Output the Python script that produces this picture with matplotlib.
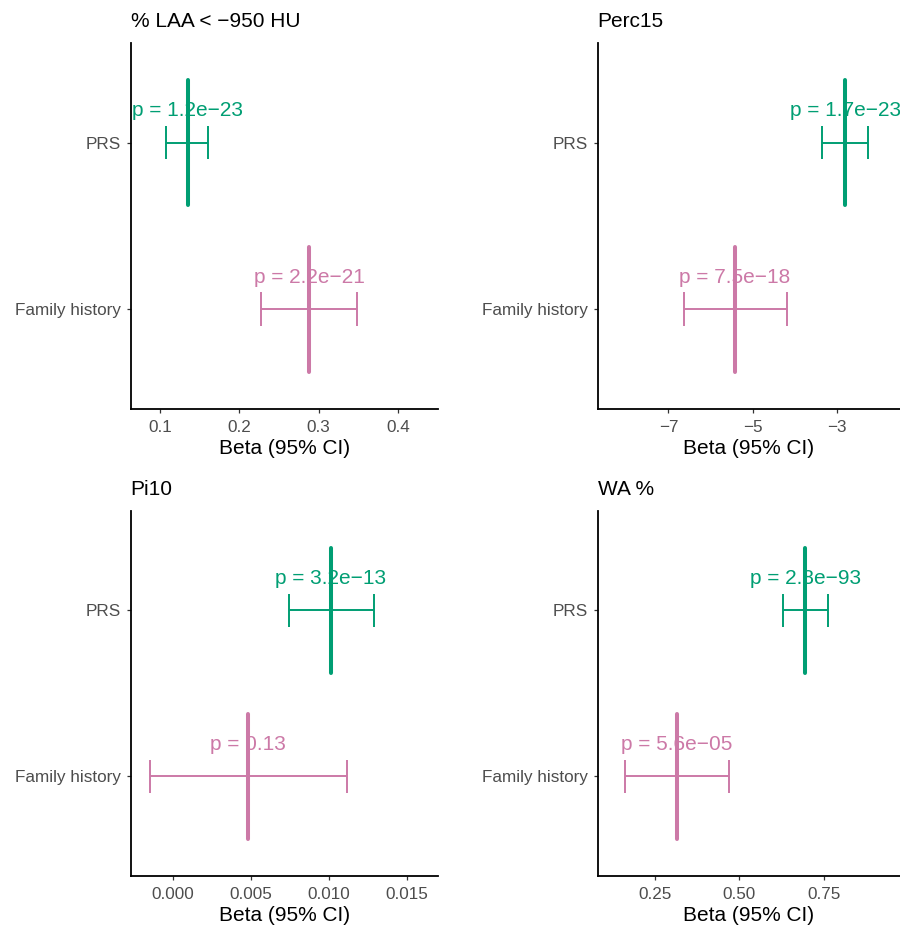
import matplotlib.pyplot as plt
import numpy as np

plt.rcParams['font.family'] = ['Liberation Sans', 'DejaVu Sans']

# panels (left to right, top to bottom)
traits = ['% LAA < \u2212950 HU', 'Perc15', 'Pi10', 'WA %']
predictors = ['Family history', 'PRS']   # y = 1, 2

# PRS estimates
prs_beta = [0.135, -2.80, 0.01013, 0.694]
prs_lo = [0.108, -3.36, 0.00744, 0.627]
prs_hi = [0.161, -2.25, 0.01290, 0.761]
prs_p = ['1.2e\u221223', '1.7e\u221223', '3.2e\u221213', '2.8e\u221293']

# family history estimates
fh_beta = [0.288, -5.43, 0.00485, 0.316]
fh_lo = [0.228, -6.63, -0.00146, 0.162]
fh_hi = [0.348, -4.18, 0.01117, 0.468]
fh_p = ['2.2e\u221221', '7.5e\u221218', '0.13', '5.6e\u221205']

x_ticks = [[0.1, 0.2, 0.3, 0.4], [-7, -5, -3], [0.000, 0.005, 0.010, 0.015], [0.25, 0.50, 0.75]]
x_ticklabels = [['0.1', '0.2', '0.3', '0.4'], ['\u22127', '\u22125', '\u22123'],
                ['0.000', '0.005', '0.010', '0.015'], ['0.25', '0.50', '0.75']]
x_lims = [(0.0634, 0.4505), (-8.68, -1.50), (-0.00269, 0.01699), (0.0826, 0.973)]

col_prs = '#009E73'
col_fh = '#CC79A7'

W, H = 900, 930
fig = plt.figure(figsize=(W / 100, H / 100), dpi=100)

# panel boxes in pixels: left, right, top, bottom
boxes = [(130.7, 438, 42.7, 409), (597.7, 900, 42.7, 409),
         (130.7, 438, 510.7, 876), (597.7, 900, 510.7, 876)]


def draw_est(ax, y, beta, lo, hi, p, col):
    # thick line for the estimate, thin bar for the CI
    ax.vlines(beta, y - 0.375, y + 0.375, color=col, lw=2.9, capstyle='round')
    ax.hlines(y, lo, hi, color=col, lw=1.4)
    ax.vlines([lo, hi], y - 0.1, y + 0.1, color=col, lw=1.4)
    ax.text(beta, y + 0.157, 'p = ' + p, color=col, fontsize=15,
            ha='center', va='baseline')


for ii in range(4):
    l, r, t, b = boxes[ii]
    ax = fig.add_axes([l / W, 1 - b / H, (r - l) / W, (b - t) / H])

    draw_est(ax, 2, prs_beta[ii], prs_lo[ii], prs_hi[ii], prs_p[ii], col_prs)
    draw_est(ax, 1, fh_beta[ii], fh_lo[ii], fh_hi[ii], fh_p[ii], col_fh)

    ax.set_xlim(*x_lims[ii])
    ax.set_ylim(0.4, 2.6)
    ax.set_xticks(x_ticks[ii])
    ax.set_xticklabels(x_ticklabels[ii])
    ax.set_yticks([1, 2])
    ax.set_yticklabels(predictors)

    for s in ['top', 'right']:
        ax.spines[s].set_visible(False)
    for s in ['left', 'bottom']:
        ax.spines[s].set_linewidth(1.3)
    ax.tick_params(length=3, width=0.9, color='#333333', labelcolor='#4D4D4D',
                   labelsize=12.3)
    ax.tick_params(axis='x', pad=5)
    ax.tick_params(axis='y', pad=4)

    ax.set_xlabel('Beta (95% CI)', fontsize=15, labelpad=3)
    ax.set_title(traits[ii], loc='left', fontsize=15, pad=11.5)

fig.savefig('out.png', dpi=100)
